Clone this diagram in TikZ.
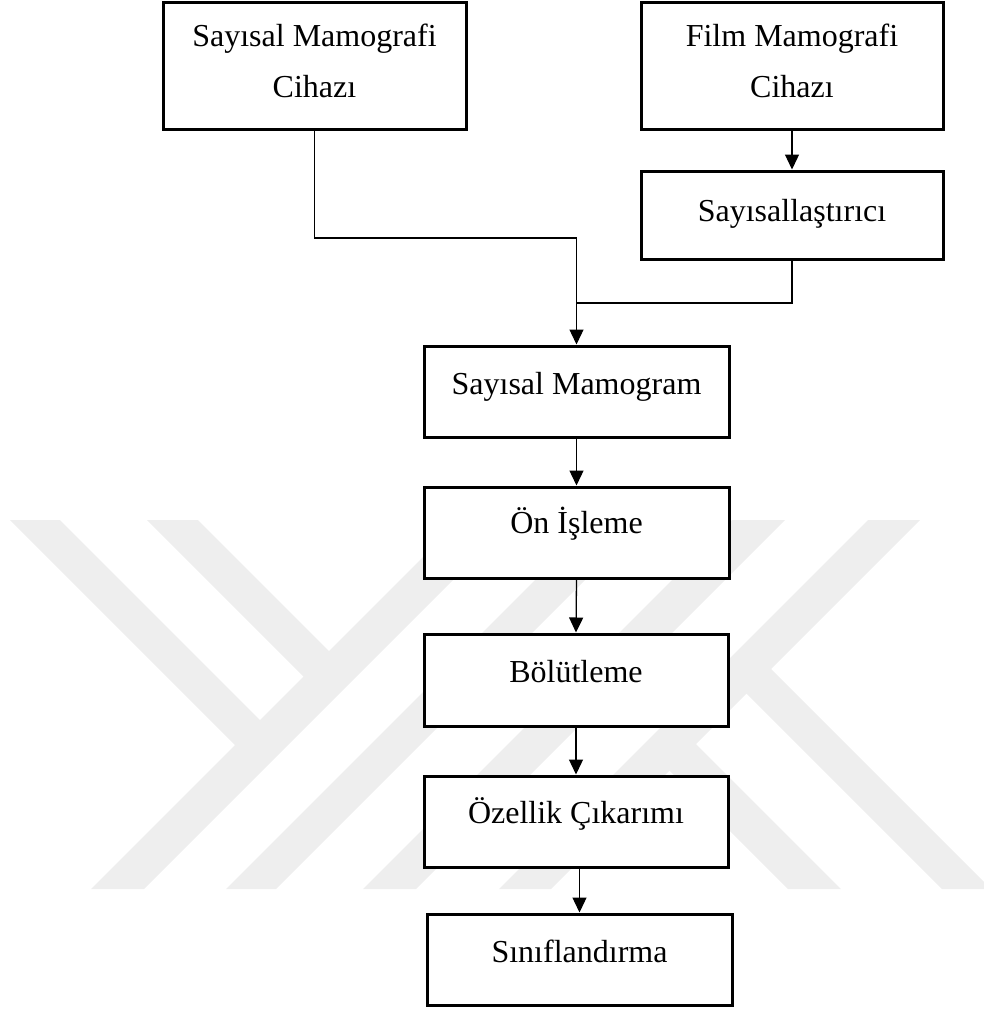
\documentclass[tikz,border=0pt]{standalone}
\usepackage{fontspec}
\setmainfont{Liberation Serif}
\usetikzlibrary{arrows.meta}
\definecolor{wm}{RGB}{238,238,238}
\begin{document}
\begin{tikzpicture}[x=1pt,y=-1pt,
  box/.style={draw=black, line width=3pt, fill=white, inner sep=0pt,
    minimum width=302pt, font=\fontsize{32}{40}\selectfont},
  conn/.style={line width=1.3pt, draw=black},
  arr/.style={conn, -{Triangle[width=14pt,length=15pt]}},
  wmark/.style={fill=wm, draw=none}]
\useasboundingbox (0,0) rectangle (984,1012);
% watermark
\fill[wmark] (460,520) -- (513,520) -- (144,889) -- (91,889) -- cycle;
\fill[wmark] (595,520) -- (645,520) -- (276,889) -- (226,889) -- cycle;
\fill[wmark] (732,520) -- (785,520) -- (416,889) -- (363,889) -- cycle;
\fill[wmark] (868,520) -- (920,520) -- (551,889) -- (499,889) -- cycle;
\fill[wmark] (10,520) -- (60,520) -- (265,725) -- (240,750) -- cycle;
\fill[wmark] (147,520) -- (198,520) -- (334,656) -- (308.5,681.5) -- cycle;
\fill[wmark] (664.5,765.5) -- (691,739) -- (841,889) -- (788,889) -- cycle;
\fill[wmark] (741.5,688.5) -- (766,664) -- (991,889) -- (942,889) -- cycle;
% boxes
\node[box, minimum width=303pt, text height=44pt, text depth=83pt] (b1) at (314.5,65.5)
  {\begin{tabular}[t]{@{}c@{}}Sayısal Mamografi\\[11pt]Cihazı\end{tabular}};
\node[box, text height=44pt, text depth=83pt] (b2) at (792,65.5)
  {\begin{tabular}[t]{@{}c@{}}Film Mamografi\\[11pt]Cihazı\end{tabular}};
\node[box, text height=50pt, text depth=38pt] (b3) at (792,215) {Sayısallaştırıcı};
\node[box, minimum width=305pt, text height=48pt, text depth=43pt] (b4) at (576.5,391.5) {Sayısal Mamogram};
\node[box, minimum width=305pt, text height=46pt, text depth=45pt] (b5) at (576.5,532.5) {Ön İşleme};
\node[box, minimum width=304pt, text height=48pt, text depth=44pt] (b6) at (576,680) {Bölütleme};
\node[box, minimum width=304pt, text height=47pt, text depth=44pt] (b7) at (576,821.5) {Özellik Çıkarımı};
\node[box, minimum width=305pt, text height=48pt, text depth=43pt] (b8) at (579.5,959.5) {Sınıflandırma};
% junctions
\coordinate (j1) at (576.5,238);
\coordinate (j2) at (576.5,303);
% connectors
\draw[conn] (b1.south) |- (j1);
\draw[arr] (j1) -- (b4.north);
\draw[conn] (b3.south) |- (j2);
\draw[arr] (b2.south) -- (b3.north);
\draw[arr] (b4.south) -- (b5.north);
\draw[arr] (b5.south) -- (b6.north);
\draw[arr] (b6.south) -- (b7.north);
\draw[arr] (b8.north |- b7.south) -- (b8.north);
\end{tikzpicture}
\end{document}
